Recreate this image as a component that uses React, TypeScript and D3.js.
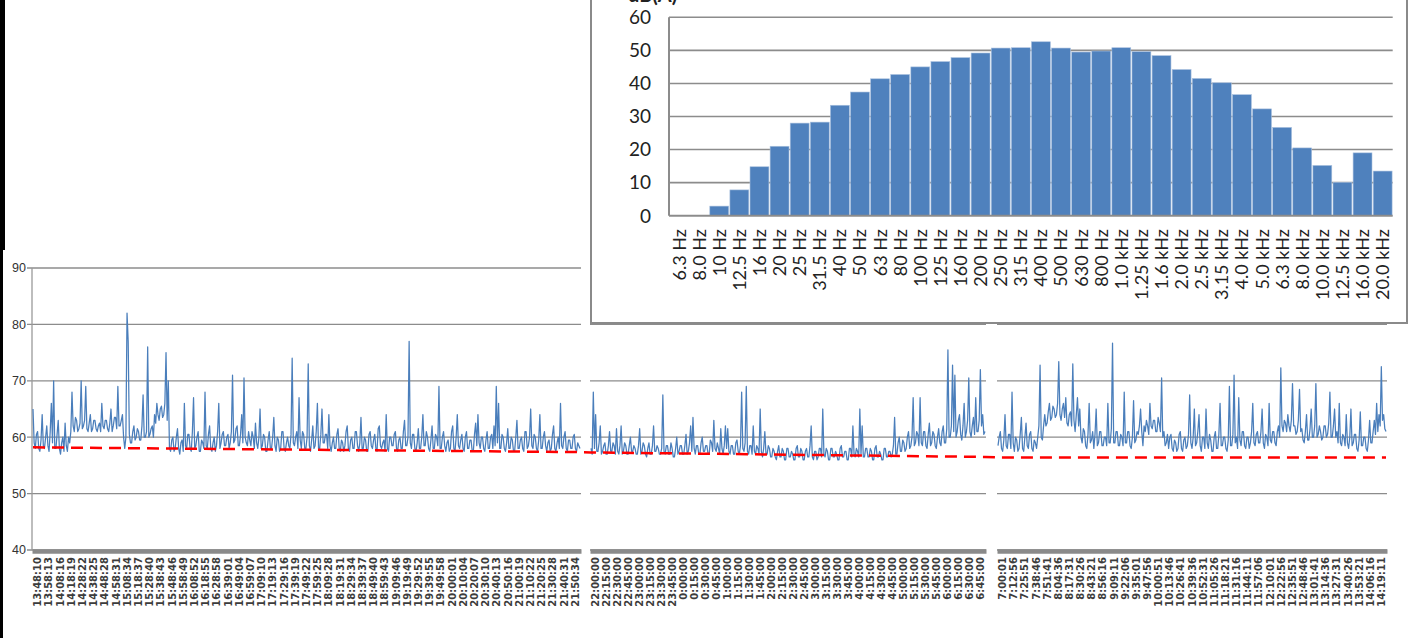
import React, { useEffect, useRef } from 'react';
import * as d3 from 'd3';

// 1/3 octave spectrum (inset)
const bandLabels = [
  '6.3 Hz', '8.0 Hz', '10 Hz', '12.5 Hz', '16 Hz', '20 Hz', '25 Hz', '31.5 Hz', '40 Hz', '50 Hz',
  '63 Hz', '80 Hz', '100 Hz', '125 Hz', '160 Hz', '200 Hz', '250 Hz', '315 Hz', '400 Hz', '500 Hz',
  '630 Hz', '800 Hz', '1.0 kHz', '1.25 kHz', '1.6 kHz', '2.0 kHz', '2.5 kHz', '3.15 kHz', '4.0 kHz', '5.0 kHz',
  '6.3 kHz', '8.0 kHz', '10.0 kHz', '12.5 kHz', '16.0 kHz', '20.0 kHz',
];
const bandLevels = [
  0, 0, 2.9, 7.8, 14.8, 21, 28, 28.3, 33.4, 37.4,
  41.4, 42.7, 45, 46.6, 47.8, 49.2, 50.7, 50.8, 52.6, 50.7,
  49.5, 49.8, 50.8, 49.6, 48.4, 44.2, 41.5, 40.2, 36.6, 32.3,
  26.7, 20.5, 15.2, 10.1, 19, 13.5,
];
const spectrumTicks = [0, 10, 20, 30, 40, 50, 60];

// time axis labels of the three measuring sections
const dayLabels = [
  '13:48:10', '13:58:13', '14:08:16', '14:18:19', '14:28:22', '14:38:25', '14:48:28', '14:58:31',
  '15:08:34', '15:18:37', '15:28:40', '15:38:43', '15:48:46', '15:58:49', '16:08:52', '16:18:55',
  '16:28:58', '16:39:01', '16:49:04', '16:59:07', '17:09:10', '17:19:13', '17:29:16', '17:39:19',
  '17:49:22', '17:59:25', '18:09:28', '18:19:31', '18:29:34', '18:39:37', '18:49:40', '18:59:43',
  '19:09:46', '19:19:49', '19:29:52', '19:39:55', '19:49:58', '20:00:01', '20:10:04', '20:20:07',
  '20:30:10', '20:40:13', '20:50:16', '21:00:19', '21:10:22', '21:20:25', '21:30:28', '21:40:31',
  '21:50:34',
];
const nightLabels = [
  '22:00:00', '22:15:00', '22:30:00', '22:45:00', '23:00:00', '23:15:00', '23:30:00', '23:45:00',
  '0:00:00', '0:15:00', '0:30:00', '0:45:00', '1:00:00', '1:15:00', '1:30:00', '1:45:00',
  '2:00:00', '2:15:00', '2:30:00', '2:45:00', '3:00:00', '3:15:00', '3:30:00', '3:45:00',
  '4:00:00', '4:15:00', '4:30:00', '4:45:00', '5:00:00', '5:15:00', '5:30:00', '5:45:00',
  '6:00:00', '6:15:00', '6:30:00', '6:45:00',
];
const morningLabels = [
  '7:00:01', '7:12:56', '7:25:51', '7:38:46', '7:51:41', '8:04:36', '8:17:31', '8:30:26',
  '8:43:21', '8:56:16', '9:09:11', '9:22:06', '9:35:01', '9:47:56', '10:00:51', '10:13:46',
  '10:26:41', '10:39:36', '10:52:31', '11:05:26', '11:18:21', '11:31:16', '11:44:11', '11:57:06',
  '12:10:01', '12:22:56', '12:35:51', '12:48:46', '13:01:41', '13:14:36', '13:27:31', '13:40:26',
  '13:53:21', '14:06:16', '14:19:11',
];

// LAeq readings, dB(A)
const dayLevels = [
  65, 59, 58, 60.5, 61, 58, 57.5, 59.5, 64, 58.5, 58, 60, 62, 58.5, 57.5, 61, 66, 59, 70, 58,
  58, 60.5, 63, 58, 57, 59, 60, 57.5, 62.5, 58.5, 57.5, 60, 59, 61,
  68, 62, 61, 63.5, 63, 61, 61.5, 62.5, 70, 61.5, 62, 63, 69, 61.5, 61, 62.5, 64, 61, 61.5, 63,
  63, 61.5, 61, 62, 62.5, 61, 66, 62, 61.5, 63, 63, 61.5, 61, 62.5, 65, 61, 62, 63.5, 63.5, 61.5,
  69, 62, 62, 63, 64, 60,
  58, 60, 82, 77, 60.5, 59, 59, 61, 62, 59.5, 60, 61.5, 61, 59.5, 59.5, 62, 67.5, 60, 60, 61,
  76, 60, 60.5, 61.5, 62, 60, 64, 62.5, 66, 64, 63, 65, 65.5, 63.5, 64, 66, 75, 63, 70, 58,
  57.5, 59.5, 60, 57.5, 58, 60, 61.5, 58, 57, 59, 59.5, 57.5, 66, 58.5, 58, 60.5, 60.5, 58,
  57.5, 61, 67, 58, 58.5, 60, 61, 57.5, 57.5, 59.5, 59, 58, 68, 58.5, 58, 60.5, 62, 58, 57.5, 59,
  60, 57.5, 58.5, 61, 66, 58, 59, 60.5, 61, 58.5, 58.5, 60, 60.5, 58, 59, 61, 71, 59, 59.5, 61.5,
  62, 58.5, 58.5, 60.5, 64, 59, 70.5, 60, 59, 58.5, 61, 59.5, 58.5, 61, 60, 58, 62.5, 59, 58, 60,
  65, 58, 58.5, 60.5, 60, 57.5, 57.5, 59.5, 61, 58, 58, 60, 63.5, 58.5, 57.5, 60, 59.5, 57.5, 58, 61,
  61, 58, 57.5, 59, 60, 58.5, 58, 60.5, 74, 59, 58.5, 60, 61, 58, 67, 59.5, 58, 61, 60.5, 58,
  58, 60, 73, 58.5, 57.5, 59.5, 62, 58, 58.5, 61, 66, 58, 58, 60.5, 65, 59, 59, 60.5, 60.5, 58,
  64, 58.5, 57.5, 59, 60, 58, 58, 60.5, 61.5, 58, 57.5, 59.5, 59, 57.5, 58.5, 61, 62, 58, 57.5, 59.5,
  60, 58, 58, 61, 61, 58.5, 57.5, 59, 63.5, 58, 58, 60, 59.5, 57.5, 57.5, 60.5, 61, 58.5, 58, 59.5,
  60.5, 58, 57.5, 61.5, 62, 58.5, 58, 59, 59.5, 57.5, 64, 58, 57.5, 60, 60, 58.5, 58.5, 60.5, 61, 58,
  57.5, 59.5, 60, 58, 58, 61, 63, 58.5, 58.5, 60, 77, 59, 58, 60.5, 60.5, 58, 57.5, 59, 61.5, 58,
  58, 60, 64, 58.5, 58.5, 61, 60, 58, 57.5, 59.5, 62, 58, 58, 60.5, 60, 58.5, 69, 58, 58, 60,
  61, 58.5, 57.5, 59, 59.5, 57.5, 58, 61, 62, 58, 57.5, 60, 64, 58.5, 58, 59.5, 60.5, 58, 57.5, 60,
  61, 58, 58, 59.5, 59.5, 57.5, 57.5, 60.5, 62.5, 58.5, 64, 59, 58, 60, 60, 58, 57.5, 59.5, 61, 58,
  58, 60, 60.5, 58, 62, 58.5, 69, 59, 66, 58, 58, 60.5, 60, 58, 57.5, 59, 61.5, 58, 58, 60,
  59.5, 57.5, 57.5, 60, 63, 58, 58, 59.5, 60, 58, 57.5, 61, 61, 58, 58.5, 60, 65, 58.5, 58, 60.5,
  60, 58, 57.5, 59.5, 64, 58, 58, 60, 61, 58.5, 57.5, 59, 59.5, 57.5, 58, 60.5, 62, 58, 57.5, 59,
  60, 58, 66, 58.5, 58, 60, 61, 58, 57.5, 59.5, 59.5, 58, 58, 60, 60.5, 58, 57.5, 59, 58.5, 58,
];
const nightLevels = [
  58, 57, 68, 58, 64, 57.5, 57.5, 59, 62, 57, 57.5, 58.5, 59, 57, 57, 58.5, 61, 57.5, 57.5, 59,
  58.5, 57, 61.5, 57.5, 57, 58.5, 62, 57, 57.5, 59, 58.5, 57, 57, 58.5, 60, 57.5, 57.5, 58.5, 58, 57,
  57, 58.5, 61.5, 57, 57.5, 59, 58.5, 57, 56.5, 58, 59, 57, 57, 58.5, 62, 57.5, 57.5, 58.5, 58, 57,
  57, 58, 67.5, 57.5, 57, 58.5, 58.5, 57, 57, 59, 58, 56.5, 56.5, 58, 60, 57, 57.5, 58.5, 58.5, 57,
  57, 58.5, 60.5, 57, 57.5, 59, 62, 57.5, 63.5, 58, 57, 58.5, 58.5, 57, 57, 59, 60, 57.5, 57.5, 58.5,
  58.5, 57, 57, 59.5, 59, 57.5, 63, 58, 57.5, 59, 58, 57, 61.5, 58, 57, 58.5, 62, 58, 61.5, 57.5,
  57, 58.5, 58.5, 57, 57, 59, 59.5, 57.5, 57, 58.5, 68, 58, 57.5, 59, 69, 57.5, 57, 58.5, 58.5, 57,
  62, 57.5, 57, 58.5, 58, 57, 65, 57.5, 56.5, 58, 61, 57, 57, 58.5, 58, 56.5, 56.5, 58, 57.5, 56.5,
  56, 57.5, 58.5, 56.5, 56.5, 58, 57.5, 56, 56, 58, 58, 56.5, 56.5, 57.5, 57, 56, 56, 58, 58.5, 56.5,
  56.5, 58, 57.5, 56, 56, 57.5, 58, 56.5, 56.5, 58.5, 62, 56.5, 56, 57.5, 57.5, 56, 56.5, 58, 58, 56.5,
  65, 57, 56.5, 58, 57.5, 56, 56, 58, 58, 56.5, 56.5, 57.5, 57, 56, 56, 58, 58.5, 56.5, 56.5, 57.5,
  57.5, 56, 56, 58, 58, 56.5, 62, 57, 56.5, 58, 57.5, 56.5, 65, 57, 62, 56.5, 56.5, 58, 58, 56.5,
  56.5, 58, 57.5, 56, 56, 58, 58.5, 56.5, 56.5, 57.5, 57, 56, 56, 58, 58, 56.5, 56.5, 57.5, 57.5, 56.5,
  57, 58.5, 63.5, 57, 57, 59, 60, 57.5, 57.5, 59.5, 59, 57.5, 58, 60, 61, 58, 58.5, 60, 67, 58.5,
  59, 61, 60.5, 58.5, 67, 59, 58.5, 61, 61, 58.5, 58, 60.5, 62.5, 58.5, 59, 61, 60.5, 58.5, 58, 60,
  61.5, 59, 58.5, 61, 62, 59, 59, 61.5, 75.5, 60, 60, 62, 72.8, 61, 71, 60, 61, 63, 64, 60.5,
  59.5, 62, 66, 60, 61, 63, 70.5, 61, 60, 62, 63.5, 60.5, 67, 61, 61, 63, 72, 62, 64, 60.5,
  61,
];
const morningLevels = [
  58.5, 60, 61, 58, 57.5, 59.5, 64, 58.5, 58, 60.5, 60.5, 58, 68, 59, 57.5, 60, 59.5, 57.5, 58, 60.5,
  63.5, 58, 57.5, 60, 62.5, 58.5, 58, 60.5, 61, 58, 57.5, 59.5, 59, 58, 60, 62, 72.8, 60, 59.5, 62,
  64, 62, 62.5, 64.5, 66, 63, 63.5, 65.5, 65, 63.5, 64, 66, 73.4, 64, 63, 65, 66, 63.5, 67, 62.5,
  62, 64, 64.5, 62, 73, 63, 61, 64, 67, 62, 65, 60, 59, 61.5, 61, 58.5, 58, 60.5, 66, 59,
  59.5, 61, 58, 60.5, 65, 58.5, 59, 61, 61, 58.5, 58.5, 60, 60, 58.5, 66, 59, 59, 61.5, 76.7, 59,
  59, 61, 61, 58.5, 58.5, 60.5, 60, 58.5, 68, 59, 59, 61, 61, 58.5, 58, 60, 66.5, 59, 59.5, 61,
  60.5, 62, 65, 61, 58.5, 62, 61, 63, 62, 60.5, 66, 62, 61.5, 63, 63, 61, 61, 63.5, 62.5, 61,
  70.5, 60, 61, 58.5, 59, 60.5, 58, 60, 60.5, 58, 57.5, 59.5, 59, 57.5, 58, 60.5, 61, 58, 57.5, 59.5,
  60, 58, 58.5, 60.5, 67.5, 59, 58, 60, 65, 58.5, 59, 61, 64, 58.5, 57.5, 60, 60, 58, 65, 59,
  58, 60.5, 59.5, 57.5, 57.5, 60, 61, 58, 58, 60.5, 66, 58.5, 58.5, 60, 60, 58, 57.5, 59.5, 69, 58.5,
  58.5, 60.5, 71, 59, 60, 58, 67, 59.5, 58.5, 61, 61, 58.5, 58, 60, 60, 58, 59, 61, 66, 59,
  58.5, 60.5, 61, 59, 59, 61, 65, 59, 58, 60.5, 60, 58.5, 66, 59.5, 59, 61, 61, 59, 58.5, 61,
  62, 60, 72.3, 62, 61, 63, 62.5, 61, 64, 62, 61, 63, 69.5, 62, 62, 60.5, 61, 63, 68.5, 61,
  61.5, 59.5, 59, 61, 64, 59.5, 59.5, 61.5, 65, 60, 60, 62, 69.5, 60, 60.5, 62, 61, 59.5, 60, 62,
  62, 60, 60.5, 62.5, 68, 60, 60, 62, 65, 60, 61, 59, 66, 59, 58.5, 60.5, 60, 58.5, 64, 59,
  58, 60, 65, 58.5, 59, 60.5, 60.5, 58, 57.5, 59.5, 64.5, 58.5, 58.5, 60, 60, 58, 57.5, 59.5, 63, 59,
  59, 61, 63, 60.5, 66, 61, 64, 62, 72.5, 63, 64, 61.5, 61,
];
const levelTicks = [40, 50, 60, 70, 80, 90];

// background level trend (red dashed): start / end of each section
const dayTrend = [58.2, 57.35];
const nightTrend = [57.3, 56.5];
const morningTrend = [56.4, 56.4];

const W = 1412;
const H = 638;

export default function App() {
  const svgRef = useRef<SVGSVGElement>(null);

  useEffect(() => {
    if (!svgRef.current) return;
    const svg = d3.select(svgRef.current);
    svg.selectAll('*').remove();

    const gridColor = '#8c8c8c';
    const blue = '#4a7ebb';

    // ---------- time history ----------
    const y = d3.scaleLinear().domain([40, 90]).range([550, 268]);

    const panels = [
      { labels: dayLabels, levels: dayLevels, trend: dayTrend, left: 32, right: 581 },
      { labels: nightLabels, levels: nightLevels, trend: nightTrend, left: 590, right: 986 },
      { labels: morningLabels, levels: morningLevels, trend: morningTrend, left: 997, right: 1387 },
    ];

    const lower = svg.append('g');

    panels.forEach((p, pi) => {
      lower.append('g')
        .selectAll('line')
        .data(levelTicks)
        .join('line')
        .attr('x1', pi === 0 ? p.left - 5 : p.left)
        .attr('x2', p.right)
        .attr('y1', d => y(d))
        .attr('y2', d => y(d))
        .attr('stroke', gridColor)
        .attr('stroke-width', 1.3);
    });

    // y axis of the first section
    lower.append('line')
      .attr('x1', panels[0].left).attr('x2', panels[0].left)
      .attr('y1', y(90)).attr('y2', y(40))
      .attr('stroke', '#9a9a9a').attr('stroke-width', 1.3);

    lower.append('g')
      .selectAll('text')
      .data(levelTicks)
      .join('text')
      .attr('x', 26)
      .attr('y', d => y(d))
      .attr('dy', '0.35em')
      .attr('text-anchor', 'end')
      .style('font-family', '"Liberation Sans", Arial, sans-serif')
      .style('font-size', '12.5px')
      .style('fill', '#333')
      .text(d => d);

    const trendPts: [number, number][] = [];

    panels.forEach(p => {
      const xi = d3.scaleLinear().domain([0, p.levels.length - 1]).range([p.left + 1, p.right - 1]);
      const line = d3.line<number>()
        .x((_, i) => xi(i))
        .y(d => y(d));
      lower.append('path')
        .attr('d', line(p.levels) || '')
        .attr('fill', 'none')
        .attr('stroke', blue)
        .attr('stroke-width', 1.25)
        .attr('stroke-linejoin', 'round');

      trendPts.push([xi(0), p.trend[0]], [xi(p.levels.length - 1), p.trend[1]]);
    });

    lower.append('path')
      .attr('d', d3.line<[number, number]>().x(d => d[0]).y(d => y(d[1]))(trendPts) || '')
      .attr('fill', 'none')
      .attr('stroke', '#ff0000')
      .attr('stroke-width', 2.5)
      .attr('stroke-dasharray', '12,7');

    panels.forEach(p => {
      const xb = d3.scaleBand<string>().domain(p.labels).range([p.left, p.right]);
      const ax = lower.append('g')
        .attr('transform', `translate(0, ${y(40) + 1})`)
        .call(d3.axisBottom(xb).tickSize(0).tickSizeOuter(0).tickPadding(0));
      ax.select('.domain')
        .attr('stroke', '#8a8a8a')
        .attr('stroke-width', 4.5);
      ax.selectAll('text')
        .attr('transform', 'rotate(-90)')
        .attr('text-anchor', 'end')
        .attr('x', -6)
        .attr('y', 0)
        .attr('dy', '0.35em')
        .style('font-family', '"DejaVu Sans", sans-serif')
        .style('font-weight', 'bold')
        .style('font-size', '10px')
        .style('fill', '#3c3c3c');
    });

    // ---------- spectrum inset ----------
    const inset = svg.append('g');
    inset.append('rect')
      .attr('x', 591).attr('y', -10)
      .attr('width', 816).attr('height', 333)
      .attr('fill', '#fff')
      .attr('stroke', '#8a8a8a')
      .attr('stroke-width', 2);

    const xs = d3.scaleBand<string>()
      .domain(bandLabels)
      .range([669, 1392.7])
      .paddingInner(0.06)
      .paddingOuter(0.03);
    const ys = d3.scaleLinear().domain([0, 60]).range([215.7, 17.3]);

    inset.append('g')
      .selectAll('line')
      .data(spectrumTicks.slice(1))
      .join('line')
      .attr('x1', 669).attr('x2', 1392.7)
      .attr('y1', d => ys(d)).attr('y2', d => ys(d))
      .attr('stroke', gridColor)
      .attr('stroke-width', 1.6);

    inset.append('g')
      .selectAll('rect')
      .data(bandLevels)
      .join('rect')
      .attr('x', (_, i) => xs(bandLabels[i]) as number)
      .attr('width', xs.bandwidth())
      .attr('y', d => ys(d))
      .attr('height', d => ys(0) - ys(d))
      .attr('fill', '#4f81bd')
      .attr('stroke', '#a9c0de')
      .attr('stroke-width', d => (d > 0 ? 0.6 : 0));

    inset.append('line')
      .attr('x1', 669).attr('x2', 669)
      .attr('y1', ys(60)).attr('y2', ys(0))
      .attr('stroke', gridColor).attr('stroke-width', 2);
    inset.append('line')
      .attr('x1', 669).attr('x2', 1392.7)
      .attr('y1', ys(0)).attr('y2', ys(0))
      .attr('stroke', gridColor).attr('stroke-width', 2);

    inset.append('g')
      .selectAll('text')
      .data(spectrumTicks)
      .join('text')
      .attr('x', 651)
      .attr('y', d => ys(d))
      .attr('dy', '0.36em')
      .attr('text-anchor', 'end')
      .style('font-family', 'Lato, sans-serif')
      .style('font-size', '19px')
      .style('fill', '#222')
      .text(d => d);

    inset.append('g')
      .selectAll('text')
      .data(bandLabels)
      .join('text')
      .attr('transform', d => `translate(${(xs(d) as number) + xs.bandwidth() / 2}, 229) rotate(-90)`)
      .attr('text-anchor', 'end')
      .attr('dy', '0.36em')
      .style('font-family', 'Lato, sans-serif')
      .style('font-size', '18px')
      .style('fill', '#222')
      .text(d => d);

    inset.append('text')
      .attr('x', 628)
      .attr('y', 2)
      .style('font-family', 'Lato, sans-serif')
      .style('font-size', '20px')
      .style('font-weight', 'bold')
      .style('fill', '#222')
      .text('dB(A)');

    // black strip at the left edge
    svg.append('rect').attr('x', 0).attr('y', 0).attr('width', 5).attr('height', 250).attr('fill', '#000');
    svg.append('rect').attr('x', 0).attr('y', 250).attr('width', 3).attr('height', H - 250).attr('fill', '#000');
  }, []);

  return (
    <svg
      ref={svgRef}
      width={W}
      height={H}
      viewBox={`0 0 ${W} ${H}`}
      style={{ position: 'absolute', left: 0, top: 0, background: '#fff' }}
    />
  );
}
